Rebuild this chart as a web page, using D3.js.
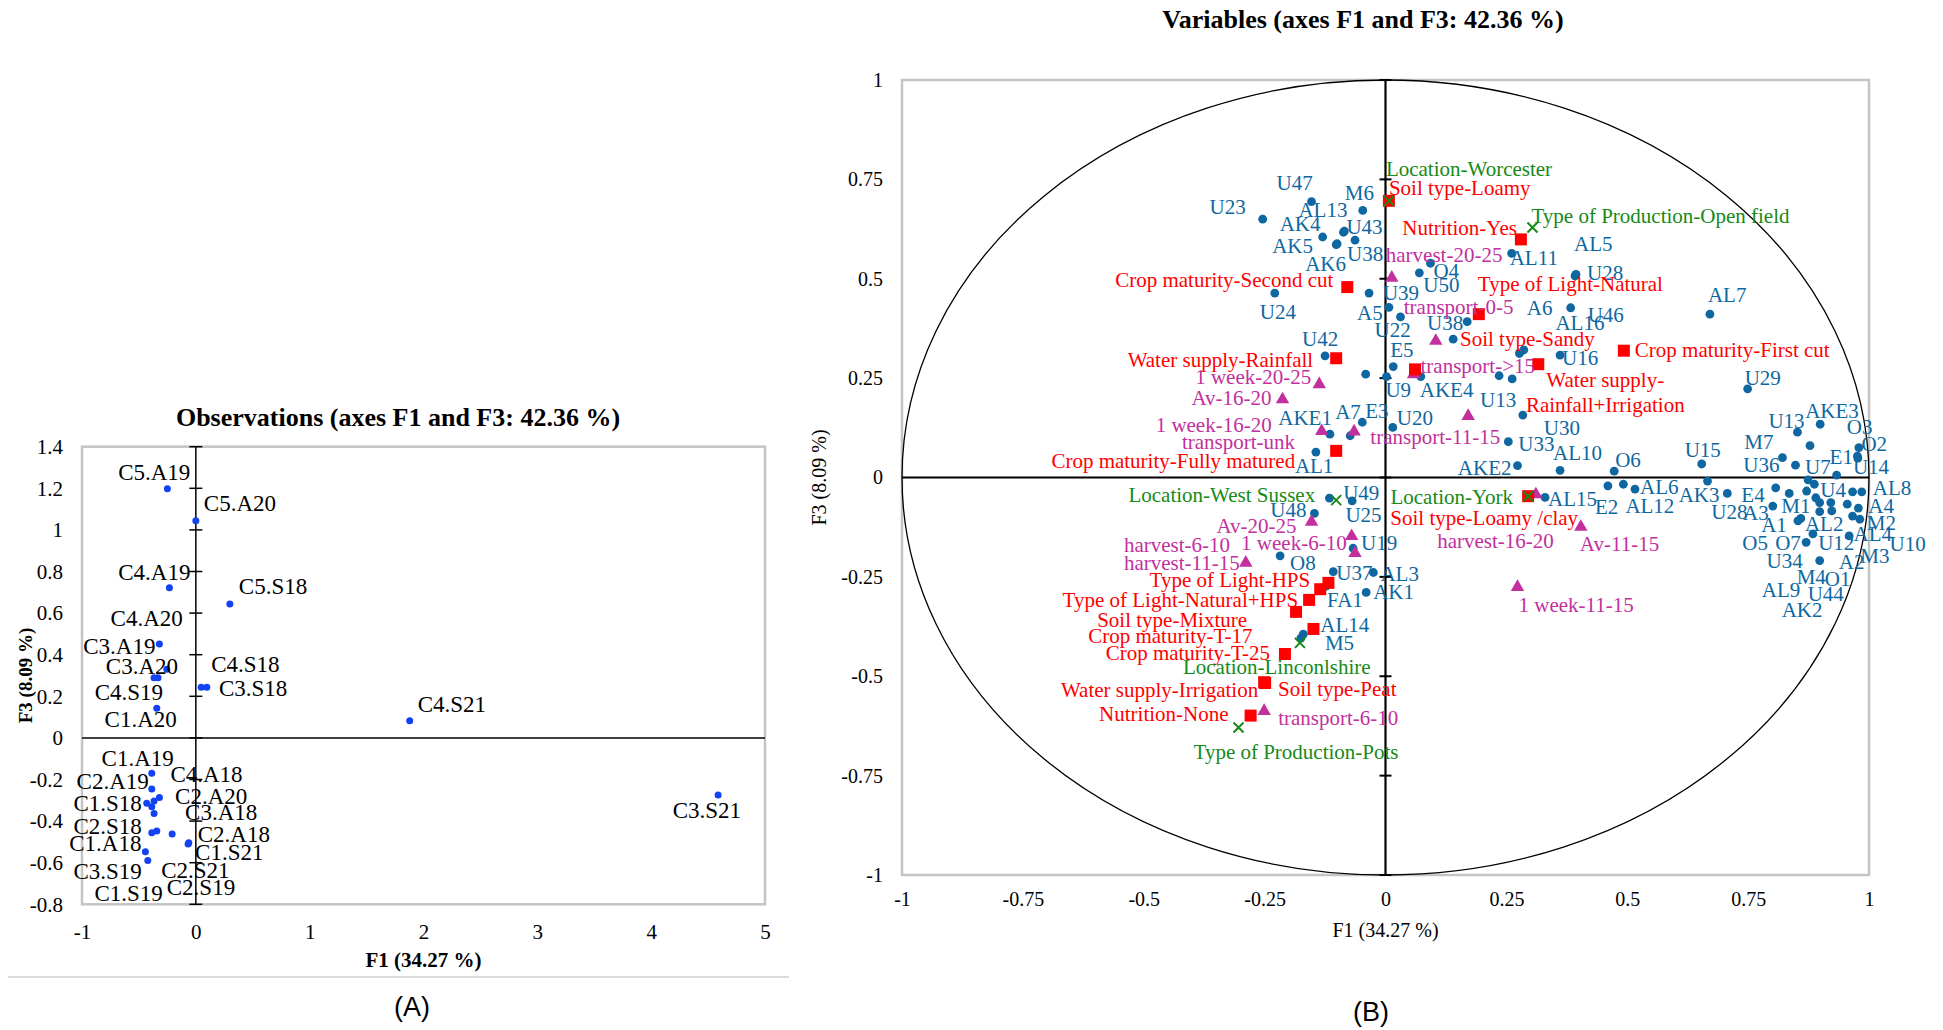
<!DOCTYPE html>
<html><head><meta charset="utf-8">
<script src="https://cdn.jsdelivr.net/npm/d3@7"></script>
<style>body{margin:0;background:#fff;} svg{display:block;}</style>
</head><body>
<svg id="chart" width="1943" height="1030"></svg>
<script>
// ---------- (A) Observations ----------
const obsNames = ["C5.A19","C5.A20","C4.A19","C5.S18","C4.A20","C3.A19","C3.A20","C4.S19","C1.A20","C4.S18","C3.S18","C4.S21","C3.S21",
  "C1.A19","C2.A19","C4.A18","C2.A20","C1.S18","C1.S19","C3.A18","C2.S18","C2.S19","C2.S21","C2.A18","C1.S21","C1.A18","C3.S19"];
const obsF1 = [-0.250,0.000,-0.232,0.299,-0.255,-0.320,-0.332,-0.367,-0.343,0.047,0.097,1.879,4.588,
  -0.387,-0.387,-0.320,-0.367,-0.431,-0.387,-0.367,-0.387,-0.343,-0.208,-0.062,-0.068,-0.443,-0.422];
const obsF3 = [1.198,1.044,0.722,0.644,0.330,0.451,0.289,0.289,0.142,0.243,0.243,0.083,-0.275,
  -0.170,-0.246,-0.287,-0.303,-0.314,-0.331,-0.363,-0.456,-0.448,-0.462,-0.504,-0.510,-0.547,-0.590];
const obsXTicks = [-1,0,1,2,3,4,5];
const obsXTickLabels = ["-1","0","1","2","3","4","5"];
const obsYTicks = [-0.8,-0.6,-0.4,-0.2,0,0.2,0.4,0.6,0.8,1,1.2,1.4];
const obsYTickLabels = ["-0.8","-0.6","-0.4","-0.2","0","0.2","0.4","0.6","0.8","1","1.2","1.4"];

// ---------- (B) Variables ----------
const varTicks = [-1,-0.75,-0.5,-0.25,0,0.25,0.5,0.75,1];
const varTickLabels = ["-1","-0.75","-0.5","-0.25","0","0.25","0.5","0.75","1"];

const activeNames = ["U47","M6","U23","AL13","AK4","U43","AK5","U38","AK6","U24","A5","U39","U22","O4","U50","AL11","AL5","U28","A6","AL16",
  "U46","U16","U38","","U42","","E5","U9","AKE4","U13","","AKE1","A7","E3","U20","AL1","U30","U33","AKE2","AL10",
  "O6","E2","AL12","AL6","AL15","U49","U25","U48","U19","O8","U37","AL3","AK1","FA1","AL14","M5","U29","AL7","AKE3","U13",
  "O3","O2","U14","E1","M7","U36","","U15","AK3","U28","E4","A3","M1","A1","O5","U7","U4","AK2","AL9","U44",
  "M4","O1","A2","AL2","O7","U34","U12","U10","AL8","M3","A4","AL4","M2"];
const activeF1 = [-0.153,-0.047,-0.254,-0.087,-0.130,-0.085,-0.102,-0.063,-0.100,-0.229,-0.034,0.007,0.031,0.093,0.070,0.261,0.392,0.394,0.286,0.277,
  0.383,0.361,0.169,0.140,-0.125,-0.041,0.016,0.002,0.073,0.235,0.262,-0.115,-0.073,-0.048,0.015,-0.144,0.284,0.254,0.273,0.361,
  0.473,0.460,0.492,0.516,0.330,-0.069,-0.116,-0.147,-0.067,-0.218,-0.108,-0.025,-0.040,-0.123,-0.170,-0.175,0.749,0.671,0.899,0.852,
  0.979,0.976,0.977,0.933,0.821,0.848,0.878,0.654,0.666,0.707,0.807,0.801,0.835,0.859,0.853,0.874,0.887,0.871,0.890,0.898,
  0.898,0.921,0.923,0.884,0.870,0.898,0.959,0.966,0.985,0.955,0.978,0.966,0.981];
const activeF3 = [0.694,0.672,0.650,0.617,0.605,0.620,0.586,0.597,0.588,0.464,0.464,0.428,0.404,0.539,0.515,0.564,0.507,0.511,0.321,0.312,
  0.427,0.308,0.392,0.348,0.306,0.260,0.279,0.254,0.254,0.256,0.248,0.109,0.105,0.139,0.126,0.064,0.157,0.090,0.030,0.018,
  0.016,-0.021,-0.017,-0.029,-0.050,-0.059,-0.052,-0.090,-0.178,-0.197,-0.237,-0.239,-0.289,-0.273,-0.394,-0.404,0.223,0.411,0.134,0.114,
  0.075,0.054,0.049,0.006,0.050,0.031,0.080,0.034,-0.009,-0.040,-0.026,-0.072,-0.040,-0.103,-0.109,-0.006,-0.017,-0.034,-0.051,-0.063,
  -0.086,-0.063,-0.084,-0.142,-0.163,-0.209,-0.147,-0.036,-0.036,-0.067,-0.077,-0.097,-0.105];

const modalityNames = ["Soil type-Loamy","Nutrition-Yes","Type of Light-Natural","Crop maturity-Second cut","Soil type-Sandy","Water supply-Rainfall",
  "Water supply-Rainfall+Irrigation","Crop maturity-First cut","Crop maturity-Fully matured","Soil type-Loamy /clay","","Type of Light-HPS",
  "Type of Light-Natural+HPS","Soil type-Mixture","Crop maturity-T-17","Crop maturity-T-25","Water supply-Irrigation","Soil type-Peat","Nutrition-None"];
const modalityF1 = [0.007,0.280,0.193,-0.079,0.061,-0.102,0.316,0.493,-0.102,0.295,-0.118,-0.135,-0.158,-0.185,-0.149,-0.208,-0.251,-0.249,-0.279];
const modalityF3 = [0.696,0.599,0.411,0.479,0.272,0.300,0.285,0.319,0.067,-0.047,-0.265,-0.281,-0.308,-0.338,-0.381,-0.444,-0.515,-0.517,-0.599];

const suppNames = ["harvest-20-25","transport-0-5","transport->15","1 week-20-25","Av-16-20","1 week-16-20","transport-unk","transport-11-15",
  "Av-20-25","1 week-6-10","harvest-6-10","harvest-11-15","harvest-16-20","Av-11-15","1 week-11-15","transport-6-10"];
const suppF1 = [0.013,0.104,0.058,-0.137,-0.213,-0.132,-0.065,0.171,-0.153,-0.070,-0.063,-0.289,0.311,0.404,0.273,-0.251];
const suppF3 = [0.505,0.346,0.262,0.237,0.199,0.119,0.118,0.157,-0.109,-0.145,-0.188,-0.212,-0.040,-0.122,-0.273,-0.585];

const siteNames = ["Location-Worcester","Type of Production-Open field","Location-West Sussex","Location-York","Location-Linconlshire","Type of Production-Pots"];
const siteF1 = [0.007,0.304,-0.102,0.295,-0.177,-0.304];
const siteF3 = [0.696,0.629,-0.057,-0.047,-0.416,-0.629];

// ---------- label placement (layout only: anchor, dx px, dy px) ----------
const obsLabelPlace = [["end",23,-9],["start",8,-10],["end",21,-8],["start",9,-10],["end",16,-43],["end",-4,10],["end",20,-4],["end",9,22],["end",20,19],
  ["start",10,-15],["start",12,9],["start",8,-9],["end",23,23],
  ["end",22,-7],["end",-3,0],["start",11,-16],["start",21,3],["end",-5,8],["end",11,94],["start",31,7],["end",-10,1],["start",10,64],
  ["start",-11,44],["start",9,-1],["start",7,16],["end",-4,-1],["end",-6,18]];
const activeLabelPlace = [["start",-35,-12],["start",-18,-10],["end",-17,-5],["start",-45,-15],["start",-43,-6],["start",2,3],["start",-64,8],["start",-8,21],["start",-32,27],["start",-15,26],
  ["start",-12,27],["start",-6,-7],["start",-26,20],["start",3,15],["start",4,19],["start",-2,12],["start",-1,-25],["start",11,6],["start",3,-35],["start",36,-23],
  ["start",17,14],["start",2,10],["end",-4,8],["start",0,0],["start",-23,-10],["start",0,0],["start",-3,-10],["start",-1,20],["start",-1,20],["start",-19,31],
  ["start",0,0],["end",2,-9],["start",-15,-17],["start",3,-4],["start",4,-2],["start",-21,21],["start",21,20],["start",10,9],["end",-6,9],["start",-7,-10],
  ["start",1,-4],["start",-13,28],["start",2,29],["start",5,5],["start",3,9],["start",-9,-1],["start",16,24],["end",-8,4],["start",8,2],["start",10,14],
  ["start",3,8],["start",7,8],["start",7,7],["start",1,21],["start",17,-2],["start",24,12],["start",-3,-4],["start",-2,-12],["start",-15,-6],["start",-29,-4],
  ["start",-12,-14],["start",4,-5],["start",-5,16],["start",-7,-11],["end",-9,-9],["end",-16,7],["start",0,0],["start",-17,-7],["end",12,21],["start",-16,26],
  ["end",-11,14],["end",-4,14],["start",-8,20],["end",-14,14],["end",-30,29],["start",-3,-6],["start",6,13],["start",-25,126],["start",-54,99],["start",-12,98],
  ["start",-23,72],["start",-6,83],["start",7,58],["start",-8,-3],["start",-31,8],["end",-17,7],["start",-31,14],["start",37,59],["start",11,3],["start",13,59],
  ["start",10,5],["start",1,25],["start",7,11]];
const modalityLabelPlace = [["start",0,-6],["end",-4,-4],["start",-1,-23],["end",-14,0],["start",45,-23],["end",-23,9],
  ["middle",67,23],["start",11,6],["end",-41,17],["end",50,29],["start",0,0],["end",-10,-2],
  ["end",-11,7],["end",-49,15],["end",-61,14],["end",-15,6],["end",-6,15],["start",13,13],["end",-22,5]];
const suppLabelPlace = [["start",-6,-15],["start",-32,-26],["start",7,0],["end",-8,1],["end",-11,7],["end",-50,2],["end",-59,18],["end",32,29],
  ["end",-15,12],["end",-5,15],["end",-125,0],["end",-6,8],["end",18,55],["start",-1,25],["start",1,26],["start",14,15]];
const siteLabelPlace = [["start",-3,-25],["start",-1,-4],["end",-21,2],["end",-15,8],["start",-117,31],["start",-45,31]];

const SERIF = "'Liberation Serif','Times New Roman',serif";
const SANS = "'Liberation Sans',Arial,sans-serif";
const C_BLUE = "#0e67a0", C_RED = "#ff0000", C_PURPLE = "#c2309e", C_GREEN = "#168a16", C_OBS = "#1242f2";

const svg = d3.select("#chart");

// ================= Panel A =================
const xO = d3.scaleLinear().domain([-1,5]).range([82,765]);
const yO = d3.scaleLinear().domain([-0.8,1.4]).range([904.3,446.7]);
const gA = svg.append("g");

gA.append("text").attr("x",398).attr("y",426).attr("text-anchor","middle")
  .attr("font-family",SERIF).attr("font-weight","bold").attr("font-size",26)
  .text("Observations (axes F1 and F3: 42.36 %)");

gA.append("rect").attr("x",xO(-1)).attr("y",yO(1.4)).attr("width",xO(5)-xO(-1)).attr("height",yO(-0.8)-yO(1.4))
  .attr("fill","none").attr("stroke","#c4c4c4").attr("stroke-width",2.5);

const axYA = gA.append("g").attr("transform",`translate(${xO(-1)},0)`)
  .call(d3.axisLeft(yO).tickValues(obsYTicks).tickFormat((d,i)=>obsYTickLabels[i]).tickSize(0).tickPadding(19));
axYA.select(".domain").remove();
axYA.attr("font-family",SERIF).attr("font-size",21);
const axXA = gA.append("g").attr("transform",`translate(0,${yO(-0.8)})`)
  .call(d3.axisBottom(xO).tickValues(obsXTicks).tickFormat((d,i)=>obsXTickLabels[i]).tickSize(0).tickPadding(20));
axXA.select(".domain").remove();
axXA.attr("font-family",SERIF).attr("font-size",21);

gA.append("line").attr("x1",xO(0)).attr("x2",xO(0)).attr("y1",yO(1.4)).attr("y2",yO(-0.8)).attr("stroke","#000").attr("stroke-width",1.5);
gA.append("line").attr("x1",xO(-1)).attr("x2",xO(5)).attr("y1",yO(0)).attr("y2",yO(0)).attr("stroke","#000").attr("stroke-width",1.5);
gA.selectAll("line.tk").data(obsYTicks).enter().append("line").attr("class","tk")
  .attr("x1",xO(0)-6.5).attr("x2",xO(0)+6.5).attr("y1",d=>yO(d)).attr("y2",d=>yO(d)).attr("stroke","#000").attr("stroke-width",1.5);

gA.append("text").attr("x",(xO(-1)+xO(5))/2).attr("y",967).attr("text-anchor","middle")
  .attr("font-family",SERIF).attr("font-weight","bold").attr("font-size",21).text("F1 (34.27 %)");
gA.append("text").attr("transform",`translate(32,${(yO(1.4)+yO(-0.8))/2}) rotate(-90)`).attr("text-anchor","middle")
  .attr("font-family",SERIF).attr("font-weight","bold").attr("font-size",19).text("F3 (8.09 %)");

gA.selectAll("circle.obs").data(obsNames).enter().append("circle").attr("class","obs")
  .attr("cx",(d,i)=>xO(obsF1[i])).attr("cy",(d,i)=>yO(obsF3[i])).attr("r",3.5).attr("fill",C_OBS);
gA.selectAll("text.obs").data(obsNames).enter().append("text").attr("class","obs")
  .attr("x",(d,i)=>xO(obsF1[i])+obsLabelPlace[i][1]).attr("y",(d,i)=>yO(obsF3[i])+obsLabelPlace[i][2])
  .attr("text-anchor",(d,i)=>obsLabelPlace[i][0]).attr("font-family",SERIF).attr("font-size",23).attr("fill","#000").text(d=>d);

gA.append("line").attr("x1",8).attr("x2",789).attr("y1",977).attr("y2",977).attr("stroke","#cfcfcf").attr("stroke-width",1.5);
gA.append("text").attr("x",412).attr("y",1016).attr("text-anchor","middle").attr("font-family",SANS).attr("font-size",27).text("(A)");

// ================= Panel B =================
const xV = d3.scaleLinear().domain([-1,1]).range([902,1869]);
const yV = d3.scaleLinear().domain([-1,1]).range([875,80]);
const gB = svg.append("g");

gB.append("text").attr("x",1363).attr("y",28).attr("text-anchor","middle")
  .attr("font-family",SERIF).attr("font-weight","bold").attr("font-size",26)
  .text("Variables (axes F1 and F3: 42.36 %)");

gB.append("rect").attr("x",xV(-1)).attr("y",yV(1)).attr("width",xV(1)-xV(-1)).attr("height",yV(-1)-yV(1))
  .attr("fill","none").attr("stroke","#c4c4c4").attr("stroke-width",2.5);

const axYB = gB.append("g").attr("transform",`translate(${xV(-1)},0)`)
  .call(d3.axisLeft(yV).tickValues(varTicks).tickFormat((d,i)=>varTickLabels[i]).tickSize(0).tickPadding(19));
axYB.select(".domain").remove();
axYB.attr("font-family",SERIF).attr("font-size",20);
const axXB = gB.append("g").attr("transform",`translate(0,${yV(-1)})`)
  .call(d3.axisBottom(xV).tickValues(varTicks).tickFormat((d,i)=>varTickLabels[i]).tickSize(0).tickPadding(17));
axXB.select(".domain").remove();
axXB.attr("font-family",SERIF).attr("font-size",20);

gB.append("ellipse").attr("cx",xV(0)).attr("cy",yV(0)).attr("rx",xV(1)-xV(0)).attr("ry",yV(0)-yV(1))
  .attr("fill","none").attr("stroke","#000").attr("stroke-width",1.3);
gB.append("line").attr("x1",xV(0)).attr("x2",xV(0)).attr("y1",yV(1)).attr("y2",yV(-1)).attr("stroke","#000").attr("stroke-width",2.2);
gB.append("line").attr("x1",xV(-1)).attr("x2",xV(1)).attr("y1",yV(0)).attr("y2",yV(0)).attr("stroke","#000").attr("stroke-width",2.2);
gB.selectAll("line.tk").data(varTicks).enter().append("line").attr("class","tk")
  .attr("x1",xV(0)-6).attr("x2",xV(0)+6).attr("y1",d=>yV(d)).attr("y2",d=>yV(d)).attr("stroke","#000").attr("stroke-width",2);

gB.append("text").attr("x",xV(0)).attr("y",937).attr("text-anchor","middle")
  .attr("font-family",SERIF).attr("font-size",20).text("F1 (34.27 %)");
gB.append("text").attr("transform",`translate(826,${yV(0)}) rotate(-90)`).attr("text-anchor","middle")
  .attr("font-family",SERIF).attr("font-size",20).text("F3 (8.09 %)");

// markers
gB.selectAll("circle.act").data(activeNames).enter().append("circle").attr("class","act")
  .attr("cx",(d,i)=>xV(activeF1[i])).attr("cy",(d,i)=>yV(activeF3[i])).attr("r",4.4).attr("fill",C_BLUE);
const tri = d3.symbol().type(d3.symbolTriangle).size(78);
gB.selectAll("path.sup").data(suppNames).enter().append("path").attr("class","sup")
  .attr("d",tri).attr("transform",(d,i)=>`translate(${xV(suppF1[i])},${yV(suppF3[i])+1})`).attr("fill",C_PURPLE);
gB.selectAll("rect.mod").data(modalityNames).enter().append("rect").attr("class","mod")
  .attr("x",(d,i)=>xV(modalityF1[i])-6).attr("y",(d,i)=>yV(modalityF3[i])-6).attr("width",12).attr("height",12).attr("fill",C_RED);
const siteG = gB.selectAll("g.site").data(siteNames).enter().append("g").attr("class","site")
  .attr("transform",(d,i)=>`translate(${xV(siteF1[i])},${yV(siteF3[i])})`);
siteG.append("line").attr("x1",-5).attr("y1",-5).attr("x2",5).attr("y2",5).attr("stroke",C_GREEN).attr("stroke-width",2);
siteG.append("line").attr("x1",-5).attr("y1",5).attr("x2",5).attr("y2",-5).attr("stroke",C_GREEN).attr("stroke-width",2);

// labels
function addLabels(names, f1, f3, place, color, cls){
  gB.selectAll("text."+cls).data(names).enter().append("text").attr("class",cls)
    .attr("x",(d,i)=>xV(f1[i])+place[i][1]).attr("y",(d,i)=>yV(f3[i])+place[i][2])
    .attr("text-anchor",(d,i)=>place[i][0]).attr("font-family",SERIF).attr("font-size",21).attr("fill",color)
    .each(function(d,i){
      const t = d3.select(this);
      if (d === "Water supply-Rainfall+Irrigation") {
        const x = xV(f1[i])+place[i][1];
        t.append("tspan").attr("x",x).text("Water supply-");
        t.append("tspan").attr("x",x).attr("dy",25).text("Rainfall+Irrigation");
      } else t.text(d);
    });
}
addLabels(activeNames, activeF1, activeF3, activeLabelPlace, C_BLUE, "lact");
addLabels(suppNames, suppF1, suppF3, suppLabelPlace, C_PURPLE, "lsup");
addLabels(modalityNames, modalityF1, modalityF3, modalityLabelPlace, C_RED, "lmod");
addLabels(siteNames, siteF1, siteF3, siteLabelPlace, C_GREEN, "lsite");

gB.append("text").attr("x",1371).attr("y",1021).attr("text-anchor","middle").attr("font-family",SANS).attr("font-size",27).text("(B)");
</script></body></html>
